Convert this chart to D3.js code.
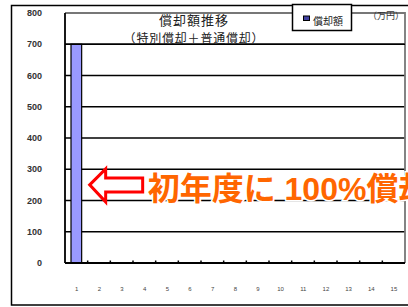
<!DOCTYPE html>
<html>
<head>
<meta charset="utf-8">
<script src="https://cdn.jsdelivr.net/npm/d3@7"></script>
<style>
  body { margin: 0; background: #fff; }
  text { font-family: "Liberation Sans", "Noto Sans CJK JP", sans-serif; }
</style>
</head>
<body>
<script>
// chart data
var years = ["1","2","3","4","5","6","7","8","9","10","11","12","13","14","15"];
var amounts = [700,0,0,0,0,0,0,0,0,0,0,0,0,0,0];
var yTicks = [0,100,200,300,400,500,600,700,800];
var seriesName = "償却額";
var title = "償却額推移";
var subtitle = "（特別償却＋普通償却）";
var unitLabel = "（万円）";
var note = "初年度に 100%償却";

window.onload = drawChart();

function drawChart(){

    var width = 408,
        height = 307;

    var svg = d3.select("body")
        .append("svg")
        .attr("width", width)
        .attr("height", height);

    //outer chart frame
    svg.append("rect")
        .attr("x", 11.5).attr("y", 5.5)
        .attr("width", 420).attr("height", 299.5)
        .attr("fill", "#fff")
        .attr("stroke", "#000")
        .attr("stroke-width", 1.5);

    var plot = {left: 65, right: 405, top: 13, bottom: 263};

    var x = d3.scaleBand()
        .domain(years)
        .range([plot.left, plot.right])
        .padding(0);

    var y = d3.scaleLinear()
        .domain([0, 800])
        .range([plot.bottom, plot.top]);

    //gridlines
    svg.selectAll(".grid")
        .data(yTicks.filter(function(d){ return d > 0 && d < 800; }))
        .enter()
        .append("line")
        .attr("class", "grid")
        .attr("x1", plot.left).attr("x2", plot.right)
        .attr("y1", function(d){ return y(d); })
        .attr("y2", function(d){ return y(d); })
        .attr("stroke", "#000")
        .attr("stroke-width", 1.7);

    //plot top + right border (grey)
    svg.append("path")
        .attr("d", "M" + plot.left + "," + y(800) + "H" + plot.right + "V" + plot.bottom)
        .attr("fill", "none")
        .attr("stroke", "#777")
        .attr("stroke-width", 1.8);

    //bars
    var barW = x.bandwidth() * 0.47;
    svg.selectAll(".bar")
        .data(amounts)
        .enter()
        .append("rect")
        .attr("class", "bar")
        .attr("x", function(d, i){ return x(years[i]) + (x.bandwidth() - barW) / 2; })
        .attr("y", function(d){ return y(d); })
        .attr("width", barW)
        .attr("height", function(d){ return y(0) - y(d); })
        .attr("fill", "#9999ff")
        .attr("stroke", "#000")
        .attr("stroke-width", 1.2);

    //700 line drawn again over bar top
    svg.append("line")
        .attr("x1", plot.left).attr("x2", plot.right)
        .attr("y1", y(700)).attr("y2", y(700))
        .attr("stroke", "#000")
        .attr("stroke-width", 1.7);

    //left axis line + baseline
    svg.append("line")
        .attr("x1", plot.left).attr("x2", plot.left)
        .attr("y1", y(800)).attr("y2", y(0))
        .attr("stroke", "#000").attr("stroke-width", 1.8);
    svg.append("line")
        .attr("x1", plot.left).attr("x2", plot.right)
        .attr("y1", y(0)).attr("y2", y(0))
        .attr("stroke", "#000").attr("stroke-width", 2);

    //small tick marks at category boundaries
    svg.selectAll(".xtick")
        .data(years.slice(1))
        .enter()
        .append("line")
        .attr("class", "xtick")
        .attr("x1", function(d){ return x(d); })
        .attr("x2", function(d){ return x(d); })
        .attr("y1", y(0)).attr("y2", y(0) - 2.5)
        .attr("stroke", "#000").attr("stroke-width", 1.5);

    //y labels
    svg.selectAll(".ylab")
        .data(yTicks)
        .enter()
        .append("text")
        .attr("class", "ylab")
        .attr("x", 42)
        .attr("y", function(d){ return y(d) + 3; })
        .attr("text-anchor", "end")
        .attr("font-size", 9)
        .attr("font-weight", "bold")
        .attr("fill", "#333")
        .text(function(d){ return d; });

    //x labels
    svg.selectAll(".xlab")
        .data(years)
        .enter()
        .append("text")
        .attr("class", "xlab")
        .attr("x", function(d){ return x(d) + x.bandwidth() / 2 + 0.3; })
        .attr("y", 291)
        .attr("text-anchor", "middle")
        .attr("font-size", 6)
        .attr("fill", "#444")
        .text(function(d){ return d; });

    //titles
    svg.append("text")
        .attr("x", 194).attr("y", 24.5)
        .attr("text-anchor", "middle")
        .attr("font-size", 13)
        .attr("letter-spacing", 1)
        .attr("fill", "#222")
        .text(title);
    svg.append("text")
        .attr("x", 194).attr("y", 43)
        .attr("text-anchor", "middle")
        .attr("font-size", 12)
        .attr("letter-spacing", 0.8)
        .attr("fill", "#222")
        .text(subtitle);

    //legend
    svg.append("rect")
        .attr("x", 292.5).attr("y", 4.5)
        .attr("width", 59).attr("height", 26)
        .attr("fill", "#fff")
        .attr("stroke", "#000")
        .attr("stroke-width", 1.5);
    svg.append("rect")
        .attr("x", 303.5).attr("y", 16)
        .attr("width", 6).attr("height", 4.5)
        .attr("fill", "#4040a0")
        .attr("stroke", "#000")
        .attr("stroke-width", 1);
    svg.append("text")
        .attr("x", 313).attr("y", 25)
        .attr("font-size", 10)
        .attr("fill", "#222")
        .text(seriesName);

    svg.append("text")
        .attr("x", 368).attr("y", 19)
        .attr("font-size", 9)
        .attr("fill", "#333")
        .text(unitLabel);

    //annotation arrow, pointing at the first bar
    var ay = y(250),
        ax = x(years[0]) + x.bandwidth() + 2;
    var arrow = [
        [ax, ay], [ax + 16, ay - 16], [ax + 16, ay - 7], [ax + 53, ay - 7],
        [ax + 53, ay + 7], [ax + 16, ay + 7], [ax + 16, ay + 17]
    ];
    svg.append("path")
        .attr("d", d3.line()(arrow) + "Z")
        .attr("fill", "#fff")
        .attr("stroke", "#ff0000")
        .attr("stroke-width", 3)
        .attr("stroke-linejoin", "miter");

    //the note runs off the right edge, as in the original
    svg.append("text")
        .attr("x", ax + 58).attr("y", ay + 15)
        .attr("font-size", 32)
        .attr("font-weight", "bold")
        .attr("fill", "#ff6600")
        .attr("stroke", "#fff")
        .attr("stroke-width", 3)
        .attr("paint-order", "stroke")
        .text(note);
};
</script>
</body>
</html>
